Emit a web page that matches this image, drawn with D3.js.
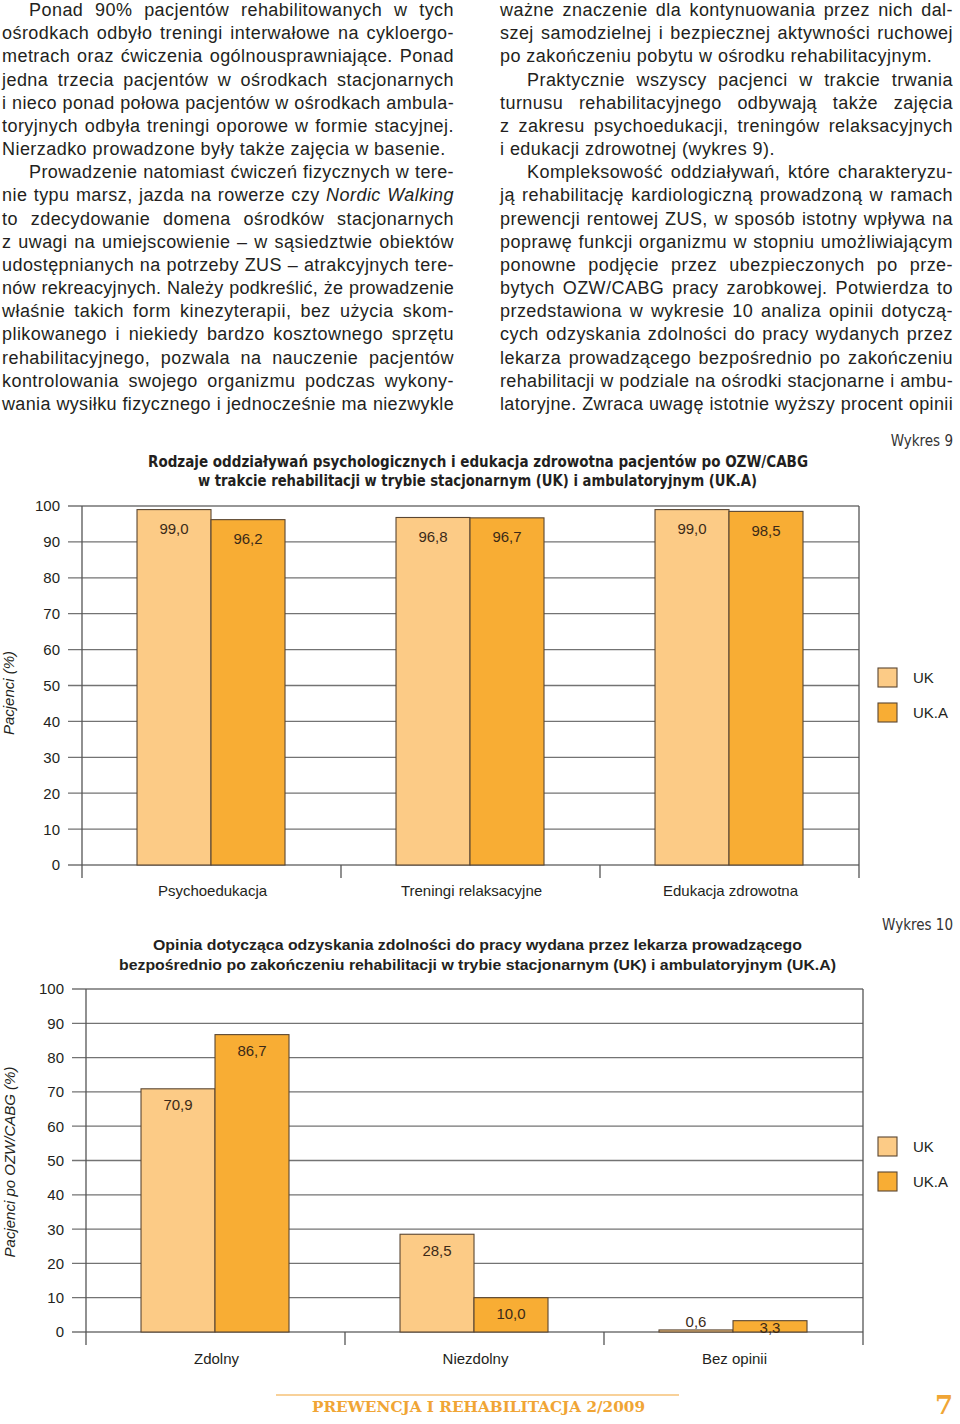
<!DOCTYPE html>
<html><head><meta charset="utf-8">
<script src="https://cdn.jsdelivr.net/npm/d3@7"></script>
<style>
html,body{margin:0;padding:0;background:#fff;}
#page{position:relative;width:960px;height:1424px;overflow:hidden;background:#fff;}
svg{position:absolute;left:0;top:0;}
.col{position:absolute;font-family:"Liberation Sans",Arial,Helvetica,sans-serif;font-size:18px;color:#231f20;}
.ln{height:23.18px;line-height:23.18px;text-align:justify;text-align-last:justify;overflow:visible;letter-spacing:0.45px;}
.ln.last{text-align-last:left;}
.ln.ind{text-indent:27px;}
</style>
</head><body>
<div id="page">
<svg id="chart" width="960" height="1424"></svg>
<div class="col" id="colL" style="left:2px;top:-1px;width:452px;"></div>
<div class="col" id="colR" style="left:500px;top:-1px;width:453px;"></div>
</div>
<script>
// ---------- DATA ----------
const series = ["UK", "UK.A"];
const cats1 = ["Psychoedukacja", "Treningi relaksacyjne", "Edukacja zdrowotna"];
const uk1 = [99.0, 96.8, 99.0];
const uka1 = [96.2, 96.7, 98.5];
const cats2 = ["Zdolny", "Niezdolny", "Bez opinii"];
const uk2 = [70.9, 28.5, 0.6];
const uka2 = [86.7, 10.0, 3.3];
const yTicks = [0, 10, 20, 30, 40, 50, 60, 70, 80, 90, 100];
const title1 = ["Rodzaje oddziaływań psychologicznych i edukacja zdrowotna pacjentów po OZW/CABG",
                "w trakcie rehabilitacji w trybie stacjonarnym (UK) i ambulatoryjnym (UK.A)"];
const title2 = ["Opinia dotycząca odzyskania zdolności do pracy wydana przez lekarza prowadzącego",
                "bezpośrednio po zakończeniu rehabilitacji w trybie stacjonarnym (UK) i ambulatoryjnym (UK.A)"];
const colors = ["#fccb86", "#f8ad34"];

const leftLines = [
  ["Ponad 90% pacjentów rehabilitowanych w tych", "ind"],
  ["ośrodkach odbyło treningi interwałowe na cykloergo-", ""],
  ["metrach oraz ćwiczenia ogólnousprawniające. Ponad", ""],
  ["jedna trzecia pacjentów w ośrodkach stacjonarnych", ""],
  ["i nieco ponad połowa pacjentów w ośrodkach ambula-", ""],
  ["toryjnych odbyła treningi oporowe w formie stacyjnej.", ""],
  ["Nierzadko prowadzone były także zajęcia w basenie.", "last"],
  ["Prowadzenie natomiast ćwiczeń fizycznych w tere-", "ind"],
  ["nie typu marsz, jazda na rowerze czy <i>Nordic Walking</i>", ""],
  ["to zdecydowanie domena ośrodków stacjonarnych", ""],
  ["z uwagi na umiejscowienie – w sąsiedztwie obiektów", ""],
  ["udostępnianych na potrzeby ZUS – atrakcyjnych tere-", ""],
  ["nów rekreacyjnych. Należy podkreślić, że prowadzenie", ""],
  ["właśnie takich form kinezyterapii, bez użycia skom-", ""],
  ["plikowanego i niekiedy bardzo kosztownego sprzętu", ""],
  ["rehabilitacyjnego, pozwala na nauczenie pacjentów", ""],
  ["kontrolowania swojego organizmu podczas wykony-", ""],
  ["wania wysiłku fizycznego i jednocześnie ma niezwykle", ""]
];
const rightLines = [
  ["ważne znaczenie dla kontynuowania przez nich dal-", ""],
  ["szej samodzielnej i bezpiecznej aktywności ruchowej", ""],
  ["po zakończeniu pobytu w ośrodku rehabilitacyjnym.", "last"],
  ["Praktycznie wszyscy pacjenci w trakcie trwania", "ind"],
  ["turnusu rehabilitacyjnego odbywają także zajęcia", ""],
  ["z zakresu psychoedukacji, treningów relaksacyjnych", ""],
  ["i edukacji zdrowotnej (wykres 9).", "last"],
  ["Kompleksowość oddziaływań, które charakteryzu-", "ind"],
  ["ją rehabilitację kardiologiczną prowadzoną w ramach", ""],
  ["prewencji rentowej ZUS, w sposób istotny wpływa na", ""],
  ["poprawę funkcji organizmu w stopniu umożliwiającym", ""],
  ["ponowne podjęcie przez ubezpieczonych po prze-", ""],
  ["bytych OZW/CABG pracy zarobkowej. Potwierdza to", ""],
  ["przedstawiona w wykresie 10 analiza opinii dotyczą-", ""],
  ["cych odzyskania zdolności do pracy wydanych przez", ""],
  ["lekarza prowadzącego bezpośrednio po zakończeniu", ""],
  ["rehabilitacji w podziale na ośrodki stacjonarne i ambu-", ""],
  ["latoryjne. Zwraca uwagę istotnie wyższy procent opinii", ""]
];

// ---------- TEXT COLUMNS ----------
function fillCol(id, lines) {
  const col = document.getElementById(id);
  const W = col.getBoundingClientRect().width;
  lines.forEach(([txt, cls]) => {
    const d = document.createElement("div");
    d.className = "ln" + (cls ? " " + cls : "");
    d.innerHTML = txt;
    col.appendChild(d);
    const s = document.createElement("span");
    s.style.whiteSpace = "nowrap";
    s.style.visibility = "hidden";
    s.style.position = "absolute";
    s.style.letterSpacing = "0.45px";
    s.innerHTML = txt;
    col.appendChild(s);
    const nat = s.getBoundingClientRect().width + (cls === "ind" ? 27 : 0);
    col.removeChild(s);
    if (nat > W - 1) {
      const n = d.textContent.length;
      d.style.letterSpacing = (0.45 - (nat - W + 2) / n) + "px";
    }
  });
}
fillCol("colL", leftLines);
fillCol("colR", rightLines);

// ---------- CHARTS ----------
const svg = d3.select("#chart");
const fmt = v => d3.format(".1f")(v).replace(".", ",");
const FONT = "'Liberation Sans', Arial, Helvetica, sans-serif";
const NARROW = "'Liberation Sans Narrow', 'DejaVu Sans Condensed', Arial, sans-serif";

function drawChart(cfg) {
  const g = svg.append("g");
  const x = d3.scaleBand().domain(cfg.cats).range([cfg.x0, cfg.x1]).padding(0);
  const bw = x.bandwidth();
  const xs = d3.scaleBand().domain(series).range([bw * 0.2124, bw * 0.7838]).padding(0);
  const y = d3.scaleLinear().domain([0, 100]).range([cfg.yb, cfg.yt]);
  const base = y(0);

  g.append("g").selectAll("line").data(yTicks).join("line")
    .attr("x1", cfg.gx).attr("x2", cfg.x1)
    .attr("y1", d => y(d)).attr("y2", d => y(d))
    .attr("stroke", "#737373").attr("stroke-width", 1.3);

  g.append("g").selectAll("text").data(yTicks).join("text")
    .attr("x", cfg.lx).attr("y", d => y(d))
    .attr("dy", "0.36em").attr("text-anchor", "end")
    .attr("font-family", FONT).attr("font-size", 15).attr("fill", "#231f20")
    .text(d => d);

  g.append("line").attr("x1", cfg.x0).attr("x2", cfg.x0)
    .attr("y1", y(100)).attr("y2", base + cfg.tickDown)
    .attr("stroke", "#555").attr("stroke-width", 1.3);
  g.append("line").attr("x1", cfg.x1).attr("x2", cfg.x1)
    .attr("y1", y(100)).attr("y2", base + cfg.tickDown)
    .attr("stroke", "#555").attr("stroke-width", 1.3);
  g.append("g").selectAll("line").data(cfg.cats.slice(1)).join("line")
    .attr("x1", d => x(d)).attr("x2", d => x(d))
    .attr("y1", base).attr("y2", base + cfg.tickDown)
    .attr("stroke", "#555").attr("stroke-width", 1.3);

  const rows = cfg.cats.map((c, i) => ({ c, vals: [cfg.a[i], cfg.b[i]] }));
  const grp = g.append("g").selectAll("g").data(rows).join("g")
    .attr("transform", d => `translate(${x(d.c)},0)`);
  grp.selectAll("rect").data(d => d.vals.map((v, k) => ({ v, s: series[k], k }))).join("rect")
    .attr("x", d => xs(d.s)).attr("width", xs.bandwidth())
    .attr("y", d => y(d.v)).attr("height", d => base - y(d.v))
    .attr("fill", d => colors[d.k]).attr("stroke", "#5a4632").attr("stroke-width", 1.1);
  grp.selectAll("text").data(d => d.vals.map((v, k) => ({ v, s: series[k], k }))).join("text")
    .attr("x", d => xs(d.s) + xs.bandwidth() / 2)
    .attr("y", d => {
      const cy = y(d.v) + cfg.labOff;
      if (cy <= base - 4) return cy;
      return d.v < 1 ? y(d.v) - 8 : base - 4;
    })
    .attr("dy", "0.36em").attr("text-anchor", "middle")
    .attr("font-family", FONT).attr("font-size", 15).attr("fill", "#3b2a18")
    .text(d => fmt(d.v));

  g.append("g").selectAll("text").data(cfg.cats).join("text")
    .attr("x", d => x(d) + bw / 2 + 1).attr("y", cfg.catY)
    .attr("dy", "0.36em").attr("text-anchor", "middle")
    .attr("font-family", FONT).attr("font-size", 15).attr("fill", "#231f20")
    .text(d => d);

  g.append("text")
    .attr("transform", `translate(${cfg.ytX},${cfg.ytY}) rotate(-90)`)
    .attr("dy", "0.36em").attr("text-anchor", "middle")
    .attr("font-family", FONT).attr("font-size", 15).attr("font-style", "italic")
    .attr("fill", "#231f20").text(cfg.ytitle);

  cfg.title.forEach((t, i) => {
    g.append("text").attr("x", cfg.tpos[i][0]).attr("y", cfg.tpos[i][2])
      .attr("dy", "0.36em")
      .attr("textLength", cfg.tpos[i][1] - cfg.tpos[i][0]).attr("lengthAdjust", "spacingAndGlyphs")
      .attr("font-family", cfg.tfont).attr("font-weight", "bold").attr("font-size", 15.5)
      .attr("fill", "#231f20").text(t);
  });

  g.append("text").attr("x", 953).attr("y", cfg.wyY).attr("dy", "0.36em")
    .attr("text-anchor", "end").attr("font-family", NARROW).attr("font-size", 15)
    .attr("fill", "#333").text(cfg.wy);

  const lg = g.append("g").selectAll("g").data(series).join("g")
    .attr("transform", (d, i) => `translate(878,${cfg.legY + i * 35})`);
  lg.append("rect").attr("width", 19).attr("height", 19)
    .attr("fill", (d, i) => colors[i]).attr("stroke", "#5a4632").attr("stroke-width", 1.1);
  lg.append("text").attr("x", 35).attr("y", 9.5).attr("dy", "0.36em")
    .attr("font-family", FONT).attr("font-size", 15).attr("fill", "#231f20").text(d => d);
}

drawChart({
  cats: cats1, a: uk1, b: uka1, x0: 82, x1: 859, gx: 68, lx: 60,
  yb: 865, yt: 506, tickDown: 13, labOff: 19, catY: 891,
  ytX: 9, ytY: 693, ytitle: "Pacjenci (%)",
  title: title1, tfont: NARROW,
  tpos: [[148, 808, 461], [198, 757, 480]],
  wy: "Wykres 9", wyY: 441, legY: 668
});
drawChart({
  cats: cats2, a: uk2, b: uka2, x0: 86, x1: 863, gx: 72, lx: 64,
  yb: 1332, yt: 989, tickDown: 13, labOff: 16, catY: 1359,
  ytX: 10, ytY: 1162, ytitle: "Pacjenci po OZW/CABG (%)",
  title: title2, tfont: FONT,
  tpos: [[153, 802, 944], [119, 836, 964]],
  wy: "Wykres 10", wyY: 925, legY: 1137
});

// ---------- FOOTER ----------
svg.append("line").attr("x1", 276).attr("x2", 679).attr("y1", 1395).attr("y2", 1395)
  .attr("stroke", "#f6c277").attr("stroke-width", 1.5);
svg.append("text").attr("x", 312).attr("y", 1407).attr("dy", "0.36em")
  .attr("textLength", 333).attr("lengthAdjust", "spacingAndGlyphs")
  .attr("font-family", "'DejaVu Serif', 'Liberation Serif', serif").attr("font-weight", "bold")
  .attr("font-size", 15).attr("fill", "#f0a535").text("PREWENCJA  I  REHABILITACJA 2/2009");
svg.append("text").attr("x", 953).attr("y", 1405).attr("dy", "0.36em").attr("text-anchor", "end")
  .attr("font-family", "'DejaVu Serif', 'Liberation Serif', serif").attr("font-weight", "bold")
  .attr("font-size", 26).attr("fill", "#f0a535").text("7");
</script>
</body></html>
